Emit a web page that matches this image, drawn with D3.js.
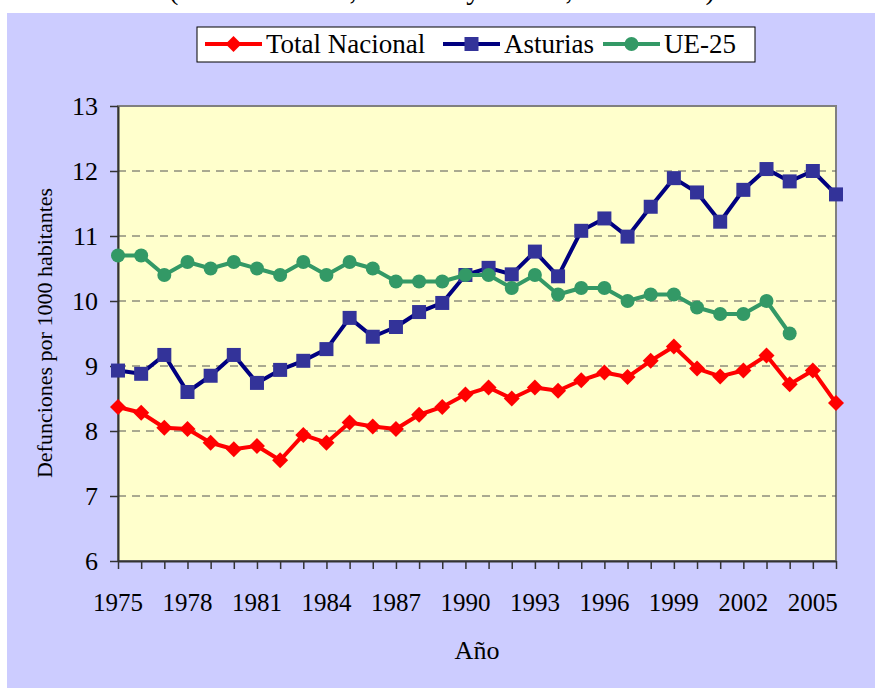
<!DOCTYPE html>
<html>
<head>
<meta charset="utf-8">
<script src="https://cdn.jsdelivr.net/npm/d3@7"></script>
<style>
  body { margin: 0; background: #fff; }
  svg { display: block; font-family: "Liberation Serif", "Times New Roman", serif; }
</style>
</head>
<body>
<svg width="875" height="688"></svg>
<script>
var years = d3.range(1975, 2007);
var tickYears = [1975, 1978, 1981, 1984, 1987, 1990, 1993, 1996, 1999, 2002, 2005];
var yTicks = [6, 7, 8, 9, 10, 11, 12, 13];

var totalNacional = [8.37, 8.28, 8.05, 8.03, 7.82, 7.72, 7.77, 7.55, 7.94, 7.82,
  8.13, 8.07, 8.03, 8.25, 8.37, 8.56, 8.67, 8.50, 8.67, 8.62, 8.78, 8.90, 8.83,
  9.08, 9.30, 8.96, 8.84, 8.93, 9.16, 8.72, 8.93, 8.43];
var asturias = [8.93, 8.88, 9.17, 8.60, 8.85, 9.17, 8.74, 8.94, 9.08, 9.26,
  9.74, 9.45, 9.60, 9.83, 9.97, 10.40, 10.51, 10.41, 10.76, 10.38, 11.08, 11.27,
  10.99, 11.45, 11.89, 11.67, 11.22, 11.71, 12.03, 11.84, 12.00, 11.64];
var ue25 = [10.7, 10.7, 10.4, 10.6, 10.5, 10.6, 10.5, 10.4, 10.6, 10.4,
  10.6, 10.5, 10.3, 10.3, 10.3, 10.4, 10.4, 10.2, 10.4, 10.1, 10.2, 10.2, 10.0,
  10.1, 10.1, 9.9, 9.8, 9.8, 10.0, 9.5];

var series = [
  { name: 'Total Nacional', values: totalNacional, line: '#ff0000', fill: '#ff0000', shape: 'diamond' },
  { name: 'Asturias', values: asturias, line: '#000080', fill: '#333399', shape: 'square' },
  { name: 'UE-25', values: ue25, line: '#339966', fill: '#339966', shape: 'circle' }
];

var svg = d3.select('svg');

// outer background
svg.append('rect')
  .attr('x', 7).attr('y', 13)
  .attr('width', 868).attr('height', 675)
  .attr('fill', '#ccccff');

// title, mostly off the top of the picture
svg.append('text')
  .attr('x', 442).attr('y', -1)
  .attr('text-anchor', 'middle')
  .attr('font-size', 29)
  .text('(Total Nacional, Asturias y UE-25, 1975-2006)');

var plotL = 118, plotR = 836, plotT = 106, plotB = 561;

var x = d3.scaleLinear().domain([1975, 2006]).range([plotL, plotR]);
var y = d3.scaleLinear().domain([6, 13]).range([plotB, plotT]);

// plot area
svg.append('rect')
  .attr('x', plotL).attr('y', plotT)
  .attr('width', plotR - plotL).attr('height', plotB - plotT)
  .attr('fill', '#ffffcc')
  .attr('stroke', '#808080')
  .attr('stroke-width', 2);

// gridlines
svg.append('g')
  .selectAll('line')
  .data(yTicks.filter(function(d) { return d > 6 && d < 13; }))
  .join('line')
  .attr('x1', plotL).attr('x2', plotR)
  .attr('y1', function(d) { return y(d); })
  .attr('y2', function(d) { return y(d); })
  .attr('stroke', '#555')
  .attr('stroke-width', 1)
  .attr('stroke-dasharray', '8,6');

// y axis
var yAxis = svg.append('g')
  .attr('transform', 'translate(' + plotL + ',0)')
  .call(d3.axisLeft(y).tickValues(yTicks).tickSize(8).tickSizeOuter(0).tickPadding(12).tickFormat(d3.format('d')));
yAxis.select('.domain').attr('stroke', '#333').attr('stroke-width', 2);
yAxis.selectAll('.tick line').attr('stroke', '#333').attr('stroke-width', 1.5);
yAxis.selectAll('.tick text')
  .attr('font-size', 26)
  .attr('font-family', '"Liberation Serif", serif')
  .attr('fill', '#000');

// x axis
var xAxis = svg.append('g')
  .attr('transform', 'translate(0,' + plotB + ')')
  .call(d3.axisBottom(x).tickValues(years).tickSize(8).tickSizeOuter(0).tickFormat(''));
xAxis.select('.domain').attr('stroke', '#333').attr('stroke-width', 2);
xAxis.selectAll('.tick line').attr('stroke', '#333').attr('stroke-width', 1.5);

svg.append('g')
  .selectAll('text')
  .data(tickYears)
  .join('text')
  .attr('x', function(d) { return x(d); })
  .attr('y', plotB + 50)
  .attr('text-anchor', 'middle')
  .attr('font-size', 25)
  .text(function(d) { return d; });

// axis titles
svg.append('text')
  .attr('x', 477).attr('y', 659)
  .attr('text-anchor', 'middle')
  .attr('font-size', 26)
  .text('Año');

svg.append('text')
  .attr('transform', 'translate(52,333) rotate(-90)')
  .attr('text-anchor', 'middle')
  .attr('font-size', 22)
  .text('Defunciones por 1000 habitantes');

function marker(sel, s) {
  if (s.shape === 'square') {
    sel.append('rect').attr('x', -7).attr('y', -7).attr('width', 14).attr('height', 14)
      .attr('fill', s.fill);
  } else if (s.shape === 'diamond') {
    sel.append('path').attr('d', 'M0,-8L8,0L0,8L-8,0Z').attr('fill', s.fill);
  } else {
    sel.append('circle').attr('r', 7).attr('fill', s.fill);
  }
}

var line = d3.line()
  .x(function(d, i) { return x(years[i]); })
  .y(function(d) { return y(d); });

series.forEach(function(s) {
  var g = svg.append('g');
  g.append('path')
    .attr('d', line(s.values))
    .attr('fill', 'none')
    .attr('stroke', s.line)
    .attr('stroke-width', 4)
    .attr('stroke-linejoin', 'round');
  g.selectAll('g')
    .data(s.values)
    .join('g')
    .attr('transform', function(d, i) { return 'translate(' + x(years[i]) + ',' + y(d) + ')'; })
    .each(function() { marker(d3.select(this), s); });
});

// legend
var legend = svg.append('g');
legend.append('rect')
  .attr('x', 197).attr('y', 27)
  .attr('width', 558).attr('height', 35)
  .attr('fill', '#fff')
  .attr('stroke', '#000')
  .attr('stroke-width', 1);

var legendX = [205, 443, 603];
series.forEach(function(s, i) {
  var g = legend.append('g').attr('transform', 'translate(' + legendX[i] + ',44)');
  g.append('line')
    .attr('x1', 0).attr('x2', 57)
    .attr('stroke', s.line).attr('stroke-width', 4);
  var m = g.append('g').attr('transform', 'translate(28.5,0)');
  marker(m, s);
  g.append('text')
    .attr('x', 61).attr('y', 9)
    .attr('font-size', 27)
    .text(s.name);
});
</script>
</body>
</html>
